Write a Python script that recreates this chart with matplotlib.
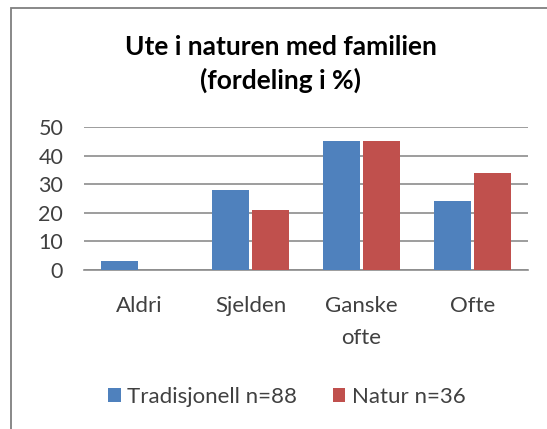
import matplotlib
matplotlib.use("Agg")
import matplotlib.pyplot as plt
import numpy as np
from matplotlib.patches import Rectangle

categories = ["Aldri", "Sjelden", "Ganske\nofte", "Ofte"]
tradisjonell = [3, 28, 45, 24]
natur = [0, 21, 45, 34]
series_names = ["Tradisjonell n=88", "Natur n=36"]
yticks = [0, 10, 20, 30, 40, 50]

plt.rcParams['font.family'] = ['Lato', 'DejaVu Sans']

W, H = 547, 429
fig = plt.figure(figsize=(W/100, H/100), dpi=100)
fig.patch.set_facecolor('white')

# outer border
fig.add_artist(Rectangle((11/W, -0.05), 1.0, 1 - 8/H + 0.05, transform=fig.transFigure,
                         fill=False, edgecolor='#7f7f7f', linewidth=1.3))

ax = fig.add_axes([84/W, 1 - 270/H, (528-84)/W, (270-127)/H])
x = np.arange(len(categories))
bw = 0.325
off = 0.18
blue = '#4f81bd'
red = '#c0504d'
b1 = ax.bar(x - off, tradisjonell, bw, color=blue, label=series_names[0], zorder=3)
b2 = ax.bar(x + off, natur, bw, color=red, label=series_names[1], zorder=3)

ax.set_xlim(-0.5, len(categories) - 0.5)
ax.set_ylim(0, 50)
ax.set_yticks(yticks)
ax.set_yticklabels([str(v) for v in yticks], fontsize=15.5, color='#404040')
ax.yaxis.grid(True, color='#8c8c8c', linewidth=1.2, zorder=0)
ax.set_axisbelow(True)
for s in ['top', 'right', 'left']:
    ax.spines[s].set_visible(False)
ax.spines['bottom'].set_color('#8c8c8c')
ax.spines['bottom'].set_linewidth(1.2)
ax.tick_params(axis='y', length=0, pad=15)
ax.tick_params(axis='x', length=0, pad=19)
ax.set_xticks(x)
ax.set_xticklabels(categories, fontsize=16, color='#404040', linespacing=1.7, va='top')

fig.text(281 / W, 1 - 64/H, "Ute i naturen med familien\n(fordeling i %)",
         ha='center', va='center', fontsize=19, fontweight='bold', color='#000000',
         linespacing=1.4)

leg = fig.legend(handles=[b1, b2], labels=series_names, loc='center',
                 bbox_to_anchor=(287/W, 1 - 397/H), ncol=2, frameon=False,
                 fontsize=16, handlelength=0.55, handleheight=0.55, handletextpad=0.3,
                 columnspacing=1.6)
for t in leg.get_texts():
    t.set_color('#404040')

fig.savefig('out.png', dpi=100, facecolor='white')
